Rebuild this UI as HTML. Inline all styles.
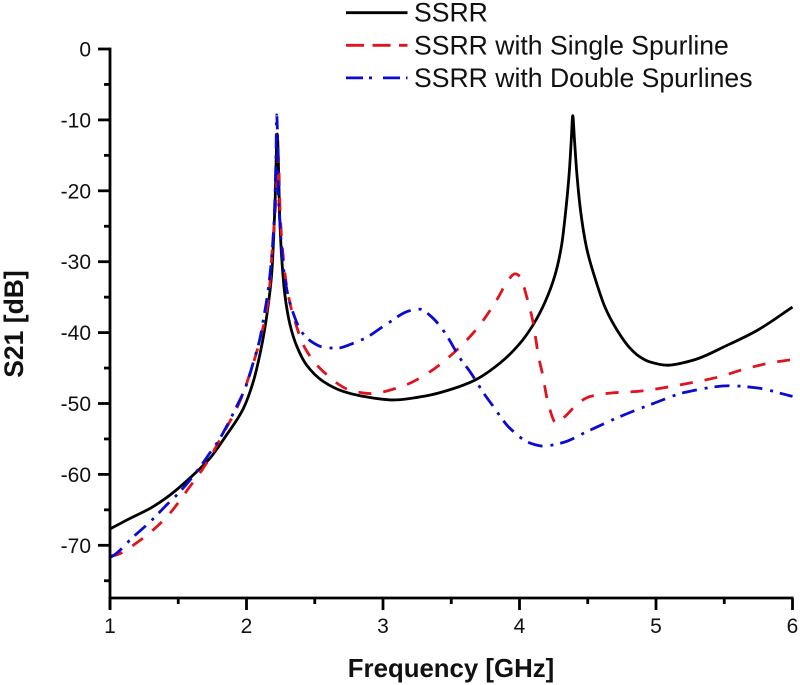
<!DOCTYPE html>
<html>
<head>
<meta charset="utf-8">
<title>S21 vs Frequency</title>
<style>
html,body{margin:0;padding:0;background:#fff;}
svg{display:block;}
text{font-family:"Liberation Sans",Arial,sans-serif;fill:#111;}
</style>
</head>
<body>
<svg id="chart" width="800" height="685" viewBox="0 0 800 685" xmlns="http://www.w3.org/2000/svg"></svg>
<script>
const xTickValues = [1, 2, 3, 4, 5, 6];
const xMinorValues = [1.5, 2.5, 3.5, 4.5, 5.5];
const yTickValues = [0, -10, -20, -30, -40, -50, -60, -70];
const yMinorValues = [-5, -15, -25, -35, -45, -55, -65, -75];

const ssrrFreq = [1,1.147,1.293,1.44,1.586,1.733,1.855,1.977,2.05,2.099,2.136,2.16,2.185,2.209,2.225,2.245,2.258,2.282,2.319,2.368,2.441,2.563,2.709,2.832,3.075,3.32,3.515,3.674,3.857,4.004,4.1,4.187,4.26,4.309,4.341,4.365,4.38,4.39,4.402,4.419,4.448,4.492,4.553,4.626,4.707,4.81,4.88,4.95,5.08,5.27,5.52,5.74,6];
const ssrrValues = [-67.7,-66.2,-64.8,-62.9,-60.5,-57.7,-54.4,-50.7,-46.9,-43,-39.2,-36,-31.6,-21.8,-12,-24.6,-29.5,-34.8,-38.9,-41.9,-44.6,-46.9,-48.3,-48.9,-49.5,-48.9,-47.9,-46.7,-44.3,-41.5,-38.9,-35.7,-31.9,-27.6,-22.4,-17.3,-12.6,-9.4,-12.6,-17.3,-22.9,-28.1,-32.3,-36.4,-39.4,-42.2,-43.4,-44.1,-44.6,-43.9,-41.8,-39.7,-36.4];

const singleFreq = [1,1.037,1.22,1.415,1.586,1.708,1.83,1.94,2.03,2.111,2.16,2.192,2.216,2.233,2.245,2.258,2.299,2.355,2.429,2.563,2.758,2.905,3.137,3.33,3.527,3.698,3.833,3.918,3.967,4.004,4.052,4.101,4.138,4.17,4.21,4.27,4.33,4.44,4.52,4.68,4.86,5.08,5.25,5.45,5.64,5.83,6];
const singleValues = [-71.5,-71.4,-69.3,-66,-61.7,-58.4,-54.2,-50.2,-45.5,-40.1,-35.4,-27.4,-21.3,-15,-22.2,-26.9,-34,-38.4,-42.2,-45.5,-48.1,-48.6,-47.6,-45.7,-42.7,-39.2,-35.4,-32.6,-31.7,-32.1,-34.9,-38.7,-43.2,-46,-50,-52.8,-51.9,-49.8,-49,-48.5,-48.3,-47.7,-47.1,-46.3,-45.2,-44.3,-43.8];

const doubleFreq = [1,1.012,1.171,1.293,1.415,1.5,1.635,1.72,1.806,1.879,1.928,1.989,2.062,2.099,2.123,2.152,2.172,2.201,2.216,2.221,2.227,2.233,2.245,2.27,2.289,2.331,2.404,2.478,2.551,2.661,2.795,2.868,3.027,3.198,3.271,3.357,3.43,3.479,3.564,3.637,3.747,3.8,3.93,4.08,4.17,4.32,4.49,4.73,4.98,5.22,5.54,5.74,5.96,6];
const doubleValues = [-71.7,-71.6,-68.8,-66.7,-64.3,-62.7,-59.6,-57.3,-54.9,-52.3,-50.4,-47.9,-43.4,-40.8,-38.2,-34.9,-31.8,-24.6,-15.2,-9.3,-12,-19.9,-24.6,-30.7,-33.3,-36.6,-39.9,-41.3,-42,-42.2,-41.4,-40.8,-38.8,-36.9,-36.7,-37.8,-39.4,-40.8,-43.6,-45.5,-48.8,-50.2,-53.5,-55.6,-56,-55.5,-54,-51.9,-50,-48.4,-47.5,-47.8,-48.8,-49];

const legendLabels = ["SSRR", "SSRR with Single Spurline", "SSRR with Double Spurlines"];

const NS = "http://www.w3.org/2000/svg";
const svg = document.getElementById("chart");
const plotLeft = 110, plotRight = 792.5, plotTop = 49, plotBottom = 598;
const xScale = v => plotLeft + (v - 1) * (plotRight - plotLeft) / 5;
const yScale = v => plotTop - v * 7.09;

function add(tag, attrs, parent) {
  const el = document.createElementNS(NS, tag);
  for (const k in attrs) el.setAttribute(k, attrs[k]);
  (parent || svg).appendChild(el);
  return el;
}
/* monotone cubic path: passes through every value with no overshoot */
function smoothPath(xs, ys) {
  const px = xs.map(xScale), py = ys.map(yScale), n = px.length;
  const s = [], m = new Array(n);
  for (let i = 0; i < n - 1; i++) s[i] = (py[i + 1] - py[i]) / (px[i + 1] - px[i]);
  m[0] = s[0];
  m[n - 1] = s[n - 2];
  for (let i = 1; i < n - 1; i++) {
    if (s[i - 1] * s[i] <= 0) { m[i] = 0; continue; }
    const h0 = px[i] - px[i - 1], h1 = px[i + 1] - px[i];
    m[i] = 3 * (h0 + h1) / ((2 * h1 + h0) / s[i - 1] + (h1 + 2 * h0) / s[i]);
  }
  let d = "M" + px[0].toFixed(2) + " " + py[0].toFixed(2);
  for (let i = 0; i < n - 1; i++) {
    const h = (px[i + 1] - px[i]) / 3;
    d += "C" + (px[i] + h).toFixed(2) + " " + (py[i] + m[i] * h).toFixed(2) + " " +
         (px[i + 1] - h).toFixed(2) + " " + (py[i + 1] - m[i + 1] * h).toFixed(2) + " " +
         px[i + 1].toFixed(2) + " " + py[i + 1].toFixed(2);
  }
  return d;
}

/* series */
const ssrrLine = add("path", {d: smoothPath(ssrrFreq, ssrrValues), fill: "none", stroke: "#000", "stroke-width": 2.8});


const singleLine = add("path", {d: smoothPath(singleFreq, singleValues), fill: "none", stroke: "#e0141c", "stroke-width": 2.8, "stroke-dasharray": "13 12"});


const doubleLine = add("path", {d: smoothPath(doubleFreq, doubleValues), fill: "none", stroke: "#0a0ad2", "stroke-width": 2.8, "stroke-dasharray": "15 8 3 7"});



/* axes */
const yAxisLine = add("line", {x1: plotLeft, x2: plotLeft, y1: plotTop - 1.4, y2: plotBottom + 12, stroke: "#000", "stroke-width": 2.8});


const xAxisLine = add("line", {x1: plotLeft - 1.4, x2: plotRight + 1, y1: plotBottom, y2: plotBottom, stroke: "#000", "stroke-width": 2.8});



xTickValues.forEach(v => {
  const t = add("line", {x1: xScale(v), x2: xScale(v), y1: plotBottom, y2: plotBottom + 12, stroke: "#000", "stroke-width": 2.8});
  
  
  const l = add("text", {x: xScale(v), y: 633, "text-anchor": "middle", "font-size": 21});
  l.textContent = String(v);
  
  
});
xMinorValues.forEach(v => {
  const t = add("line", {x1: xScale(v), x2: xScale(v), y1: plotBottom, y2: plotBottom + 6, stroke: "#000", "stroke-width": 2.8});
  
  
});
yTickValues.forEach(v => {
  const t = add("line", {x1: plotLeft - 12, x2: plotLeft, y1: yScale(v), y2: yScale(v), stroke: "#000", "stroke-width": 2.8});
  
  
  const l = add("text", {x: 91, y: yScale(v) + 7.5, "text-anchor": "end", "font-size": 21});
  l.textContent = String(v);
  
  
});
yMinorValues.forEach(v => {
  const t = add("line", {x1: plotLeft - 6, x2: plotLeft, y1: yScale(v), y2: yScale(v), stroke: "#000", "stroke-width": 2.8});
  
  
});

/* legend */
const legendStyles = [
  {stroke: "#000", dash: "none"},
  {stroke: "#e0141c", dash: "18 8.5"},
  {stroke: "#0a0ad2", dash: "17 6 3 11"}
];
legendLabels.forEach((label, i) => {
  const y = 12.7 + i * 32.6;
  const line = add("line", {x1: 346, x2: 407.5, y1: y, y2: y, stroke: legendStyles[i].stroke, "stroke-width": 2.8, "stroke-dasharray": legendStyles[i].dash});
  
  
  const text = add("text", {x: 414, y: y + 9, "font-size": 26.6});
  text.textContent = label;
  
  
});

/* titles */
const xTitle = add("text", {x: 451, y: 677, "text-anchor": "middle", "font-size": 25.8, "font-weight": "bold"});
xTitle.textContent = "Frequency [GHz]";


const yTitle = add("text", {x: 0, y: 0, transform: "translate(23 324) rotate(-90)", "text-anchor": "middle", "font-size": 26.5, "font-weight": "bold"});
yTitle.textContent = "S21 [dB]";


</script>
</body>
</html>
